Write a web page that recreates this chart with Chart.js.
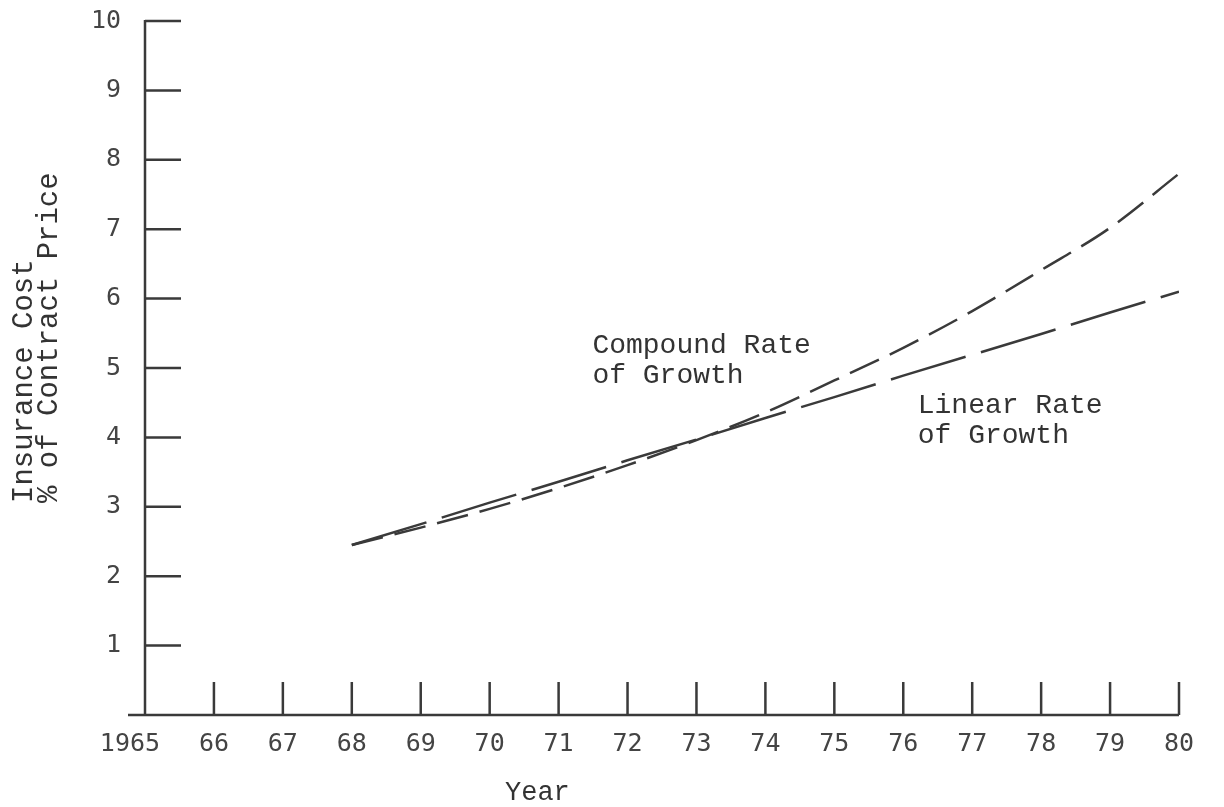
<!DOCTYPE html>
<html>
<head>
<meta charset="utf-8">
<script src="https://cdn.jsdelivr.net/npm/chart.js@4/dist/chart.umd.min.js"></script>
<style>
  html, body { margin: 0; padding: 0; background: #ffffff; }
  #wrap { position: relative; width: 1224px; height: 807px; }
</style>
</head>
<body>
<div id="wrap"><canvas id="c"></canvas></div>
<script>
// ---- data ----
const years = [1968, 1969, 1970, 1971, 1972, 1973, 1974, 1975, 1976, 1977, 1978, 1979, 1980];
const linearRate   = [2.45, 2.75, 3.06, 3.36, 3.67, 3.97, 4.28, 4.58, 4.89, 5.19, 5.49, 5.80, 6.10];
const compoundRate = [2.45, 2.70, 2.97, 3.27, 3.60, 3.96, 4.36, 4.82, 5.29, 5.82, 6.41, 7.02, 7.80];
const xTickValues = [1965, 1966, 1967, 1968, 1969, 1970, 1971, 1972, 1973, 1974, 1975, 1976, 1977, 1978, 1979, 1980];
const xTickLabels = ['1965  ', '66', '67', '68', '69', '70', '71', '72', '73', '74', '75', '76', '77', '78', '79', '80'];
const yTickValues = [0, 1, 2, 3, 4, 5, 6, 7, 8, 9, 10];
const yTickLabels = ['', '1', '2', '3', '4', '5', '6', '7', '8', '9', '10'];
const yTitleLines = ['Insurance Cost', '% of Contract Price'];
const xTitle = 'Year';
const compoundNote = ['Compound Rate', 'of Growth'];
const linearNote = ['Linear Rate', 'of Growth'];

const INK = '#3a3a3a';
const TYPE_FONT = '"Liberation Mono", "Courier New", monospace';
const TICK_FONT = '"DejaVu Sans Mono", monospace';

const drawPlugin = {
  id: 'typewriter',
  afterDraw(chart) {
    const ctx = chart.ctx;
    const xs = chart.scales.x, ys = chart.scales.y;
    const area = chart.chartArea;
    ctx.save();
    ctx.strokeStyle = INK;
    ctx.lineWidth = 2.5;
    ctx.lineCap = 'butt';
    // axes
    ctx.beginPath();
    ctx.moveTo(area.left, ys.getPixelForValue(10) - 1);
    ctx.lineTo(area.left, area.bottom + 1);
    ctx.moveTo(area.left - 17, area.bottom);
    ctx.lineTo(xs.getPixelForValue(1980), area.bottom);
    ctx.stroke();
    // y tick marks (pointing into the plot)
    ctx.beginPath();
    yTickValues.forEach(v => {
      if (v === 0) return;
      const y = ys.getPixelForValue(v);
      ctx.moveTo(area.left, y);
      ctx.lineTo(area.left + 36, y);
    });
    // x tick marks (pointing up)
    xTickValues.forEach(v => {
      if (v === 1965) return;
      const x = xs.getPixelForValue(v);
      ctx.moveTo(x, area.bottom);
      ctx.lineTo(x, area.bottom - 33);
    });
    ctx.stroke();

    // typewriter texts
    ctx.fillStyle = '#333333';
    ctx.textBaseline = 'alphabetic';
    ctx.textAlign = 'left';
    ctx.font = '28px ' + TYPE_FONT;
    const cx = xs.getPixelForValue(1971.49), cy = ys.getPixelForValue(5.216);
    compoundNote.forEach((t, i) => ctx.fillText(t, cx, cy + i * 30));
    const lx = xs.getPixelForValue(1976.21), ly = ys.getPixelForValue(4.35);
    linearNote.forEach((t, i) => ctx.fillText(t, lx, ly + i * 30));

    ctx.font = '27px ' + TYPE_FONT;
    ctx.fillText(xTitle, 505, 800);

    ctx.font = '29px ' + TYPE_FONT;
    yTitleLines.forEach((t, i) => {
      ctx.save();
      ctx.translate(32 + i * 25, 503);
      ctx.rotate(-Math.PI / 2);
      ctx.fillText(t, 0, 0);
      ctx.restore();
    });
    ctx.restore();
  }
};

new Chart(document.getElementById('c'), {
  type: 'line',
  data: {
    datasets: [
      {
        label: 'Linear Rate of Growth',
        data: years.map((y, i) => ({ x: y, y: linearRate[i] })),
        borderColor: INK,
        borderWidth: 2.5,
        borderDash: [78, 16],
        pointRadius: 0,
        tension: 0,
        fill: false
      },
      {
        label: 'Compound Rate of Growth',
        data: years.map((y, i) => ({ x: y, y: compoundRate[i] })),
        borderColor: INK,
        borderWidth: 2.5,
        borderDash: [32, 12],
        pointRadius: 0,
        cubicInterpolationMode: 'monotone',
        fill: false
      }
    ]
  },
  options: {
    responsive: true,
    maintainAspectRatio: false,
    animation: false,
    layout: { padding: { top: 21, right: 45, left: 0, bottom: 0 } },
    plugins: { legend: { display: false }, tooltip: { enabled: false } },
    scales: {
      x: {
        type: 'linear',
        min: 1965, max: 1980,
        afterBuildTicks: s => { s.ticks = xTickValues.map(v => ({ value: v })); },
        afterFit: s => { s.height = 92; s.paddingLeft = 0; s.paddingRight = 0; },
        grid: { display: false, drawTicks: false },
        border: { display: false },
        ticks: {
          autoSkip: false,
          maxRotation: 0,
          padding: 14,
          color: '#444444',
          font: { family: TICK_FONT, size: 25 },
          callback: v => xTickLabels[xTickValues.indexOf(v)]
        }
      },
      y: {
        type: 'linear',
        min: 0, max: 10,
        afterBuildTicks: s => { s.ticks = yTickValues.map(v => ({ value: v })); },
        afterFit: s => { s.width = 145; s.paddingTop = 0; s.paddingBottom = 0; },
        grid: { display: false, drawTicks: false },
        border: { display: false },
        ticks: {
          padding: 24,
          color: '#444444',
          font: { family: TICK_FONT, size: 25 },
          callback: v => yTickLabels[yTickValues.indexOf(v)]
        }
      }
    }
  },
  plugins: [drawPlugin]
});
</script>
</body>
</html>
